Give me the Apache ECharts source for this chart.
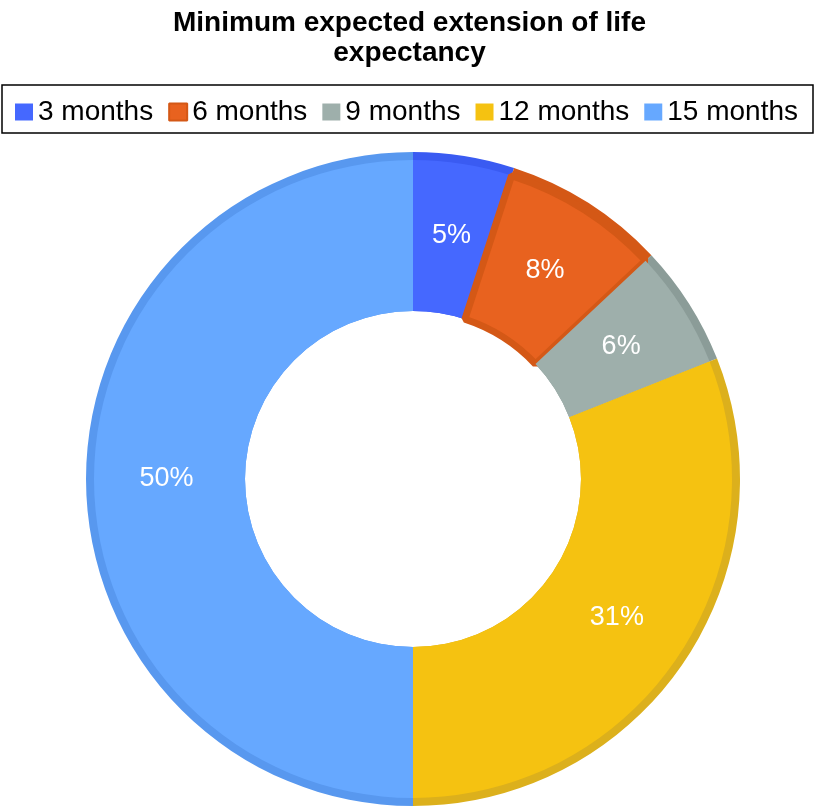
<!DOCTYPE html>
<html>
<head>
<meta charset="utf-8">
<title>Minimum expected extension of life expectancy</title>
<script src="https://cdn.jsdelivr.net/npm/echarts@6/dist/echarts.min.js"></script>
<style>
    html, body { margin: 0; padding: 0; background: #fff; }
    #chart { width: 819px; height: 808px; }
</style>
</head>
<body>
<div id="chart"></div>
<script>
// data
var categories = ['3 months', '6 months', '9 months', '12 months', '15 months'];
var percents = [5, 8, 6, 31, 50];
var fillColors = ['#4568ff', '#e8621f', '#9eafab', '#f5c211', '#66a8ff'];
var edgeColors = ['#3a5bf2', '#d45816', '#8b9c98', '#dcb01c', '#5898ef'];

// build pie items from the arrays
function pieData(colors) {
    var res = [];
    for (var i = 0; i < categories.length; i++) {
        res.push({
            name: categories[i],
            value: percents[i],
            itemStyle: { color: colors[i] }
        });
    }
    return res;
}

var inner = pieData(fillColors);
// orange slice has its own dark frame
inner[1].itemStyle.borderColor = edgeColors[1];
inner[1].itemStyle.borderWidth = 7;
inner[1].itemStyle.borderJoin = 'bevel';

var myChart = echarts.init(document.getElementById('chart'));
myChart.setOption({
    animation: false,
    title: {
        text: 'Minimum expected extension of life\nexpectancy',
        left: 'center',
        top: 3,
        textStyle: {
            fontFamily: 'Liberation Sans',
            fontSize: 28,
            fontWeight: 'bold',
            lineHeight: 30,
            color: '#000'
        }
    },
    legend: {
        data: categories,
        left: 15,
        top: 98,
        padding: 0,
        icon: 'rect',
        itemWidth: 18,
        itemHeight: 17,
        itemGap: 15,
        itemTextGap: 7,
        selectedMode: false,
        textStyle: {
            fontFamily: 'Liberation Sans',
            fontSize: 28,
            lineHeight: 28,
            color: '#000'
        }
    },
    // legend frame
    graphic: [{
        type: 'rect',
        shape: { x: 2, y: 85, width: 811, height: 48 },
        style: { fill: 'none', stroke: '#000', lineWidth: 1.5 },
        z: 10
    }],
    series: [
        {
            name: 'fill',
            type: 'pie',
            z: 3,
            center: [413, 479],
            radius: [168, 319],
            startAngle: 90,
            clockwise: true,
            silent: true,
            label: {
                show: true,
                position: 'inside',
                formatter: '{c}%',
                color: '#fff',
                fontFamily: 'Liberation Sans',
                fontSize: 27
            },
            labelLine: { show: false },
            data: inner
        },
        {
            // darker outer rim
            name: 'rim',
            type: 'pie',
            z: 2,
            center: [413, 479],
            radius: [168, 327],
            startAngle: 90,
            clockwise: true,
            silent: true,
            label: { show: false },
            labelLine: { show: false },
            data: pieData(edgeColors)
        }
    ]
});
</script>
</body>
</html>
